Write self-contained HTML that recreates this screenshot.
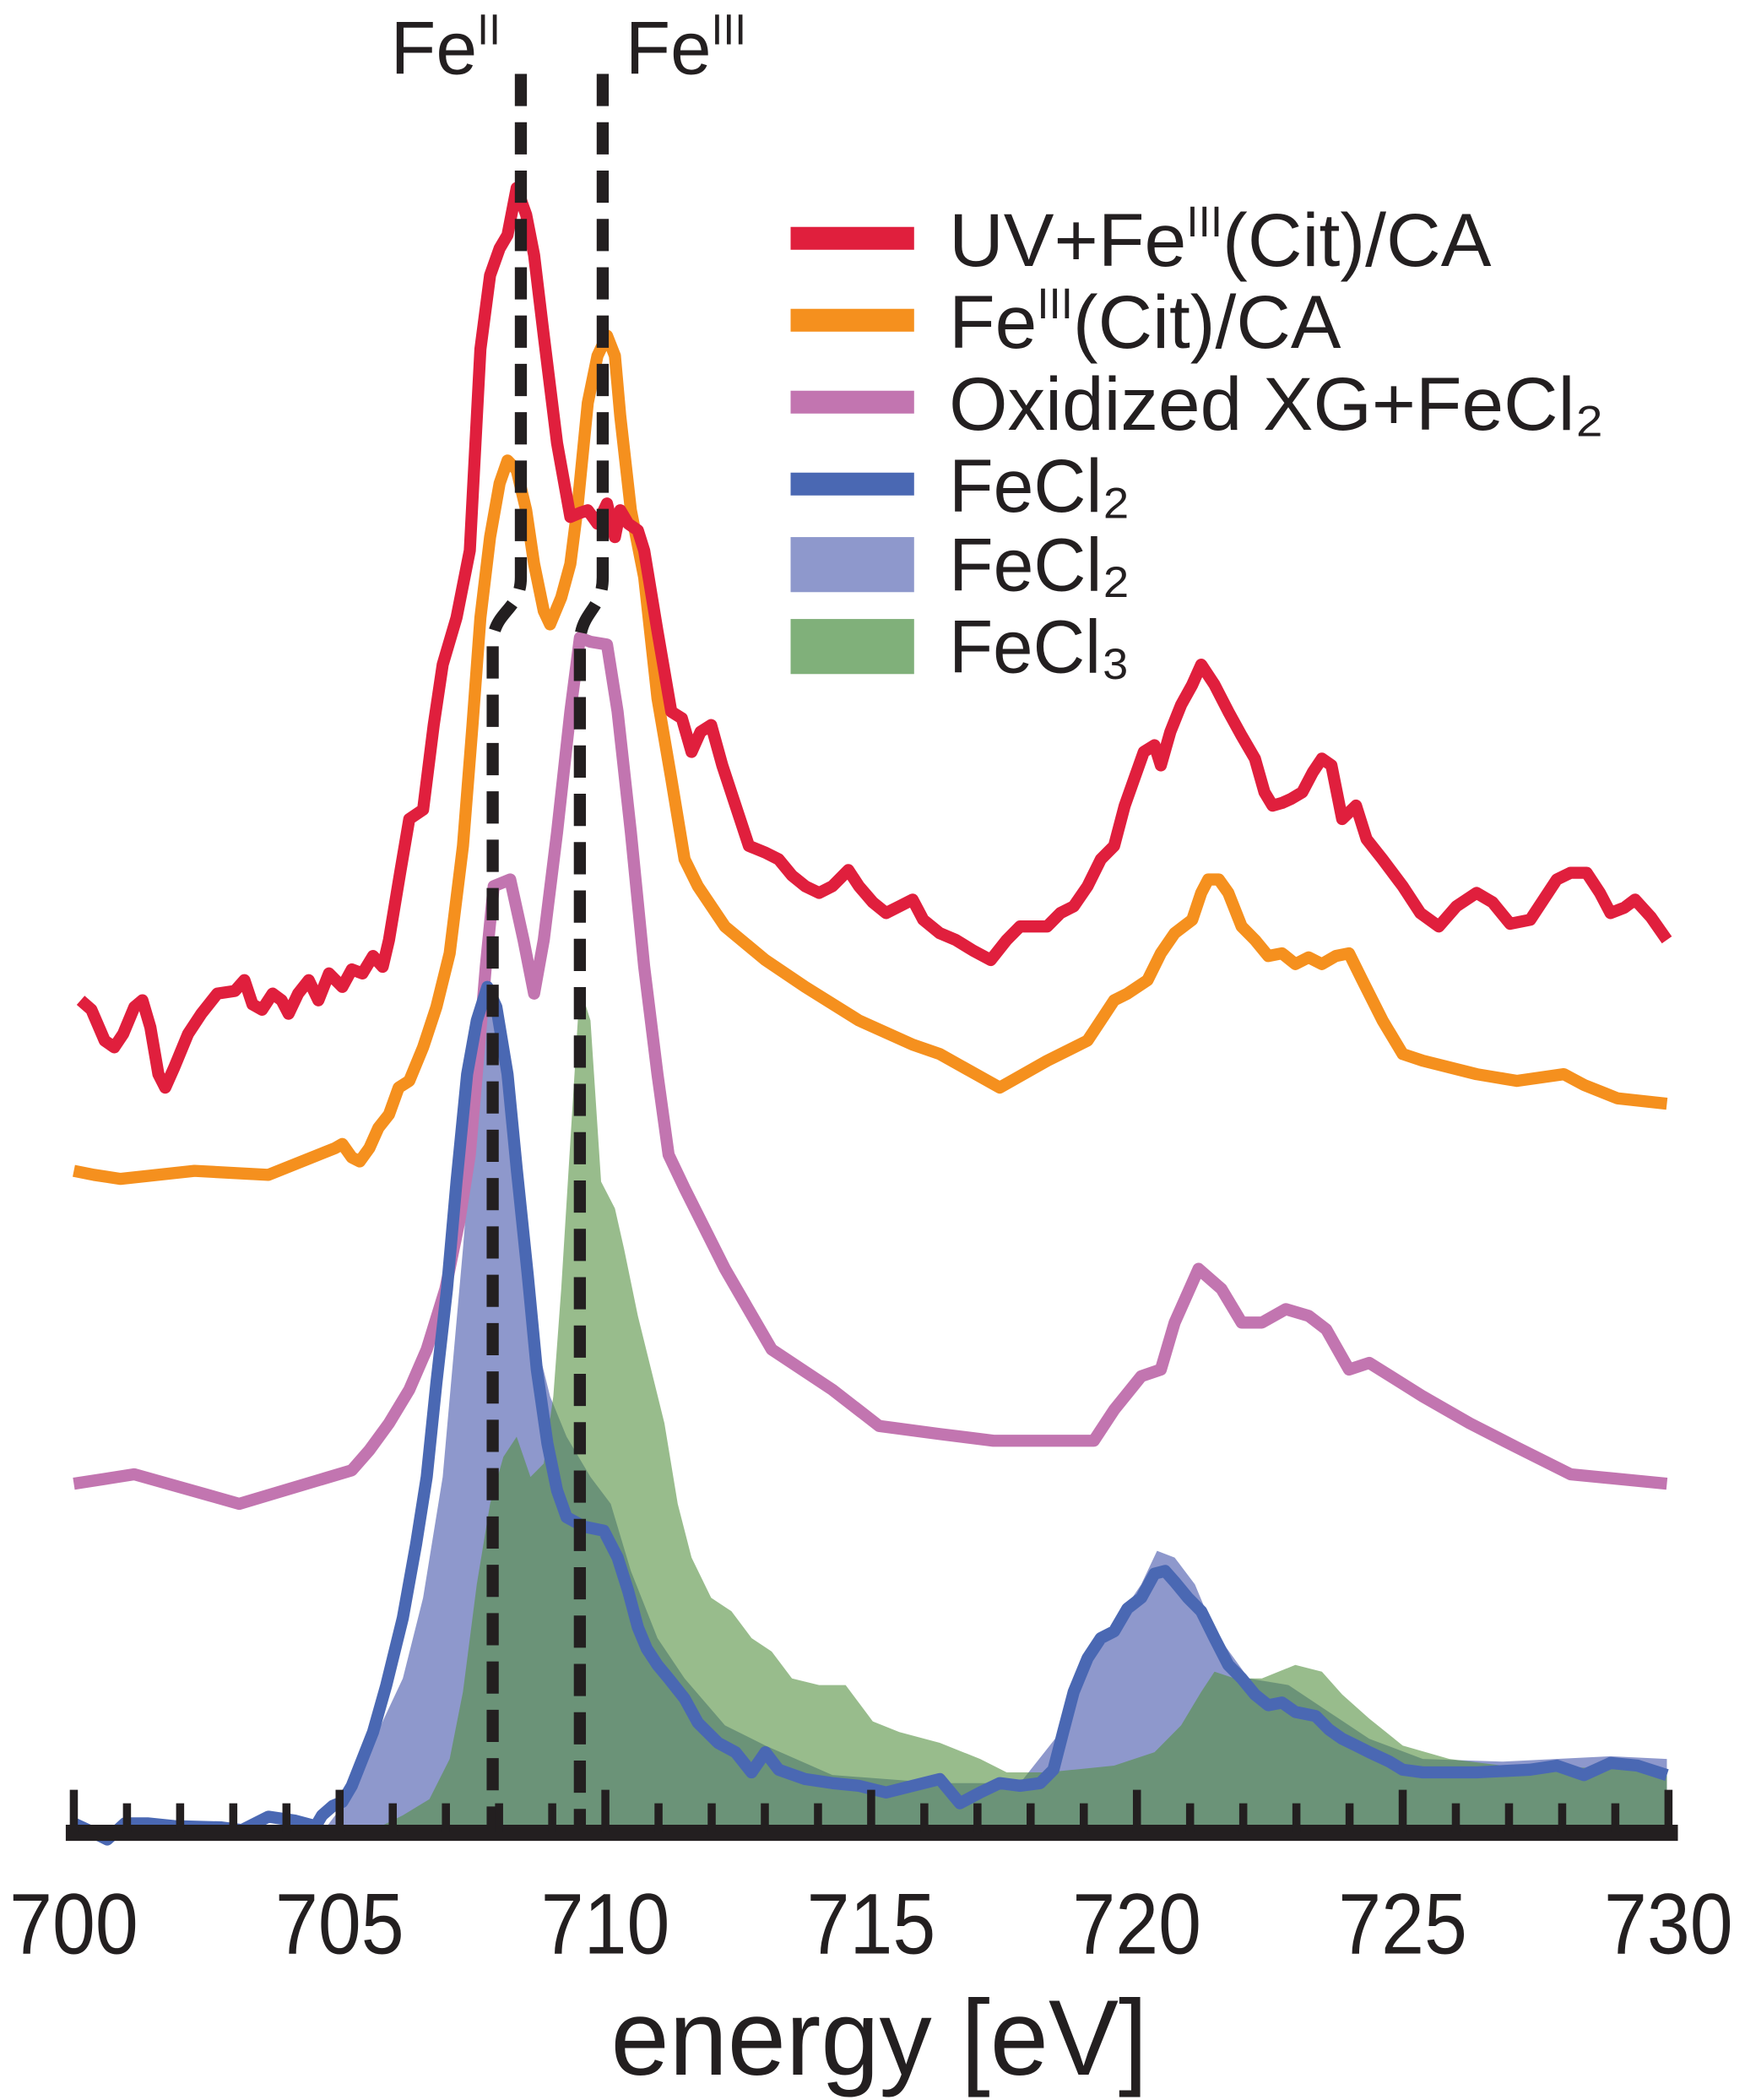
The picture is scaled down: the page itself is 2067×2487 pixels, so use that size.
<!DOCTYPE html>
<html><head><meta charset="utf-8"><style>
html,body{margin:0;padding:0;background:#fff;}
svg{display:block;}
text{font-family:"Liberation Sans",sans-serif;fill:#231f20;}
</style></head><body>
<svg id="chart" width="2067" height="2487" viewBox="0 0 1300 1564" preserveAspectRatio="none" xmlns="http://www.w3.org/2000/svg">
<g id="fills"></g>
<g id="lines"></g>
<g id="markers"></g>
<g id="axis"></g>
<text x="291" y="55" font-size="56" textLength="82" lengthAdjust="spacingAndGlyphs">Fe<tspan font-size="32" dy="-22">II</tspan></text>
<text x="466" y="55" font-size="56" textLength="90" lengthAdjust="spacingAndGlyphs">Fe<tspan font-size="32" dy="-22">III</tspan></text>
<text x="655" y="1545" font-size="80" text-anchor="middle" textLength="400" lengthAdjust="spacingAndGlyphs">energy [eV]</text>
<g id="legend">
 <g><rect x="589" y="169" width="92" height="17" fill="#e01f3d"/><text x="707" y="198" font-size="56" textLength="404" lengthAdjust="spacingAndGlyphs">UV+Fe<tspan font-size="32" dy="-22">III</tspan><tspan dy="22">(Cit)/CA</tspan></text></g>
 <g><rect x="589" y="230" width="92" height="17" fill="#f5901e"/><text x="707" y="259" font-size="56" textLength="292" lengthAdjust="spacingAndGlyphs">Fe<tspan font-size="32" dy="-22">III</tspan><tspan dy="22">(Cit)/CA</tspan></text></g>
 <g><rect x="589" y="291" width="92" height="17" fill="#c275b0"/><text x="707" y="320" font-size="56" textLength="488" lengthAdjust="spacingAndGlyphs">Oxidized XG+FeCl₂</text></g>
 <g><rect x="589" y="352" width="92" height="17" fill="#4a68b3"/><text x="707" y="381" font-size="56" textLength="135" lengthAdjust="spacingAndGlyphs">FeCl₂</text></g>
 <g><rect x="589" y="400" width="92" height="41" fill="#8e98cc"/><text x="707" y="440" font-size="56" textLength="135" lengthAdjust="spacingAndGlyphs">FeCl₂</text></g>
 <g><rect x="589" y="461" width="92" height="41" fill="#80b07a"/><text x="707" y="501" font-size="56" textLength="135" lengthAdjust="spacingAndGlyphs">FeCl₃</text></g>
</g>
</svg>
<script>
const redE=[700.13,700.33,700.58,700.76,700.93,701.14,701.29,701.44,701.59,701.72,701.89,702.15,702.40,702.70,703.03,703.21,703.36,703.54,703.74,703.91,704.04,704.22,704.42,704.60,704.80,705.05,705.23,705.43,705.63,705.81,705.93,706.14,706.31,706.57,706.77,706.94,707.20,707.45,707.65,707.83,708.01,708.16,708.33,708.51,708.66,708.84,709.09,709.34,709.52,709.67,709.85,710.03,710.18,710.28,710.43,710.61,710.73,710.98,711.24,711.44,711.62,711.79,711.99,712.20,712.45,712.70,713.01,713.26,713.51,713.76,714.02,714.27,714.57,714.77,715.03,715.28,715.53,715.78,715.98,716.29,716.59,716.92,717.25,717.55,717.80,718.06,718.31,718.56,718.81,719.07,719.32,719.57,719.77,719.95,720.13,720.33,720.45,720.63,720.83,721.04,721.21,721.46,721.72,721.97,722.22,722.40,722.55,722.73,722.90,723.11,723.31,723.48,723.66,723.86,724.12,724.32,724.62,725.00,725.33,725.68,726.01,726.39,726.69,727.02,727.40,727.65,727.90,728.16,728.46,728.71,728.91,729.17,729.37,729.67,729.97];
const redV=[620,613,590,585,595,615,620,600,565,555,570,595,610,625,627,635,617,613,625,620,610,625,635,620,640,630,643,640,653,645,665,715,755,762,825,870,905,955,1105,1160,1180,1190,1225,1205,1175,1115,1035,980,983,985,975,990,965,985,975,970,955,895,835,830,805,820,825,795,765,735,730,725,713,705,700,705,717,705,693,685,690,695,680,670,665,657,650,665,675,675,675,685,690,705,725,735,765,785,805,810,795,820,840,855,870,855,835,817,800,775,765,767,770,775,790,800,795,755,765,740,725,705,685,675,690,700,693,677,680,695,710,715,715,700,685,689,695,682,665];
const orangeE=[700.00,700.38,700.88,702.27,703.66,704.92,705.05,705.23,705.38,705.56,705.73,705.93,706.11,706.31,706.57,706.82,707.07,707.32,707.50,707.65,707.83,708.01,708.16,708.33,708.51,708.66,708.84,708.96,709.17,709.34,709.47,709.67,709.85,710.03,710.18,710.28,710.48,710.73,710.98,711.24,711.49,711.74,712.25,713.01,713.76,714.77,715.78,716.29,717.42,718.31,719.07,719.32,719.57,719.82,720.20,720.45,720.71,721.04,721.21,721.34,721.54,721.72,721.97,722.22,722.47,722.73,722.98,723.23,723.48,723.74,723.99,724.24,724.62,725.00,725.38,726.39,727.15,728.03,728.41,729.04,729.97];
const orangeV=[493,490,487,493,490,510,513,503,500,510,525,535,555,560,585,615,655,735,825,905,965,1005,1022,1015,985,945,910,900,920,945,985,1065,1100,1115,1100,1055,985,935,845,785,725,705,675,650,630,605,587,580,555,575,590,605,620,625,635,655,670,680,700,710,710,700,675,665,653,655,647,652,647,653,655,635,605,580,575,565,560,565,557,547,543];
const purpleE=[700.00,701.14,703.11,705.23,705.56,705.93,706.31,706.64,706.99,707.25,707.45,707.58,707.75,707.90,708.21,708.46,708.66,708.84,709.09,709.34,709.52,709.72,710.03,710.23,710.48,710.73,710.98,711.19,711.49,712.25,713.13,714.27,715.15,716.29,717.30,719.19,719.57,720.08,720.45,720.71,721.16,721.59,721.97,722.35,722.80,723.23,723.56,723.99,724.37,725.38,726.26,727.15,728.16,729.97];
const purpleV=[260,267,245,270,285,305,330,360,405,455,505,565,645,705,710,665,625,665,745,835,890,887,885,835,745,645,565,505,480,420,360,330,303,297,292,292,315,340,345,380,420,405,380,380,390,385,375,345,350,325,305,287,267,260];
const fecl2E=[700.00,700.38,700.63,700.96,701.39,701.89,702.78,703.16,703.66,704.17,704.55,704.67,704.87,705.05,705.23,705.43,705.63,705.88,706.19,706.44,706.64,706.82,707.02,707.20,707.40,707.58,707.78,707.95,708.16,708.33,708.54,708.71,708.91,709.09,709.27,709.60,709.97,710.23,710.43,710.61,710.78,710.98,711.19,711.49,711.74,712.12,712.45,712.75,713.01,713.26,713.76,714.27,714.77,715.28,715.78,716.29,716.67,717.05,717.42,717.80,718.18,718.43,718.61,718.81,719.07,719.32,719.57,719.82,720.08,720.33,720.53,720.71,720.96,721.21,721.46,721.72,721.97,722.22,722.47,722.73,722.98,723.36,723.61,723.86,724.12,724.37,724.75,725.00,725.38,726.39,727.40,727.90,728.41,728.91,729.42,729.97];
const fecl2V=[7,0,-5,7,7,5,4,2,12,9,5,13,20,23,35,55,75,110,160,215,265,335,405,485,565,605,630,615,565,495,415,345,290,255,235,228,225,205,180,153,137,125,115,100,82,67,60,45,60,47,40,37,35,30,35,40,22,30,37,35,37,47,75,105,130,145,150,167,175,193,195,187,175,165,145,125,115,103,95,97,90,87,77,70,65,60,53,47,45,45,47,50,43,52,50,43];
const fecl2FillE=[700.00,704.67,705.05,705.43,705.81,706.19,706.57,706.94,707.32,707.58,707.83,708.08,708.46,708.71,708.96,709.27,709.72,710.10,710.48,710.98,711.49,712.25,713.01,714.27,716.29,717.80,718.56,719.07,719.57,720.08,720.38,720.71,721.09,721.46,722.10,722.85,723.61,724.37,725.38,726.89,728.91,729.97];
const fecl2FillV=[0,0,20,47,83,115,175,265,435,565,635,575,445,365,325,295,265,245,195,145,115,80,65,43,37,37,75,125,155,185,210,205,185,150,115,110,90,70,55,53,57,55];
const fecl3E=[700.00,705.18,705.68,706.19,706.69,707.07,707.32,707.58,707.83,708.08,708.33,708.59,708.84,709.02,709.17,709.34,709.52,709.72,709.92,710.18,710.35,710.61,710.86,711.11,711.36,711.62,711.99,712.37,712.75,713.13,713.51,714.02,714.52,715.03,715.53,716.29,717.05,717.55,718.31,718.81,719.57,720.33,720.83,721.21,721.46,721.84,722.35,722.98,723.48,723.86,724.37,725.00,725.88,726.89,729.97];
const fecl3V=[0,0,3,13,25,55,105,185,245,280,295,265,275,325,405,515,630,605,485,465,435,385,345,305,245,205,175,165,145,135,115,110,110,83,75,67,55,45,45,47,50,60,80,105,120,115,115,125,120,103,85,65,55,50,47];
const tickLabels=["700","705","710","715","720","725","730"];
const markerE=[[708.41,707.88],[709.95,709.52]];

const NS="http://www.w3.org/2000/svg";
const X0=55,X1=1243,E0=700,E1=730,BASE=1365;
function xS(e){return X0+(e-E0)*(X1-X0)/(E1-E0);}
function yS(v){return BASE-v;}
function pts(E,V){return E.map((e,i)=>xS(e).toFixed(1)+","+yS(V[i]).toFixed(1));}
function mk(tag,parent){const el=document.createElementNS(NS,tag);document.getElementById(parent).appendChild(el);return el;}

function area(E,V,fill,op,name){
  const p=mk("path","fills");
  
  
  p.setAttribute("d","M"+xS(E[0])+","+BASE+" L"+pts(E,V).join(" L")+" L"+xS(E[E.length-1])+","+BASE+" Z");
  p.setAttribute("fill",fill);p.setAttribute("fill-opacity",op);
}
area(fecl2FillE,fecl2FillV,"#8e98cc",1,"fecl2-fill-area");
area(fecl3E,fecl3V,"#53903f",0.6,"fecl3-fill-area");

function line(E,V,col,name){
  const p=mk("polyline","lines");
  
  
  p.setAttribute("points",pts(E,V).join(" "));
  p.setAttribute("fill","none");p.setAttribute("stroke",col);
  p.setAttribute("stroke-width","9");p.setAttribute("stroke-linejoin","round");
}
line(purpleE,purpleV,"#c275b0","oxidized-xg-line");
line(orangeE,orangeV,"#f5901e","fe-cit-line");
line(redE,redV,"#e01f3d","uv-fe-cit-line");
line(fecl2E,fecl2V,"#4a68b3","fecl2-line");

markerE.forEach((m,i)=>{
  const p=mk("path","markers");
  
  
  const xt=xS(m[0]),xb=xS(m[1]);
  p.setAttribute("d","M"+xt+",55 L"+xt+",430 C"+xt+",455 "+xb+",455 "+xb+",480 L"+xb+","+BASE);
  p.setAttribute("fill","none");p.setAttribute("stroke","#231f20");
  p.setAttribute("stroke-width","9");p.setAttribute("stroke-dasharray","24 12");
});

const ax=mk("line","axis");


ax.setAttribute("x1",49);ax.setAttribute("x2",1250);ax.setAttribute("y1",BASE);ax.setAttribute("y2",BASE);
ax.setAttribute("stroke","#231f20");ax.setAttribute("stroke-width","12");
for(let e=E0;e<=E1;e++){
  const major=(e-E0)%5===0;
  const t=mk("line","axis");
  
  
  t.setAttribute("x1",xS(e));t.setAttribute("x2",xS(e));
  t.setAttribute("y1",BASE);t.setAttribute("y2",major?1333:1343);
  t.setAttribute("stroke","#231f20");t.setAttribute("stroke-width","6");
}
tickLabels.forEach(s=>{
  const t=mk("text","axis");
  
  
  t.setAttribute("x",xS(+s));t.setAttribute("y",1455);
  t.setAttribute("font-size","64");t.setAttribute("text-anchor","middle");
  t.setAttribute("textLength","96");t.setAttribute("lengthAdjust","spacingAndGlyphs");
  t.textContent=s;
});
</script>
</body></html>
